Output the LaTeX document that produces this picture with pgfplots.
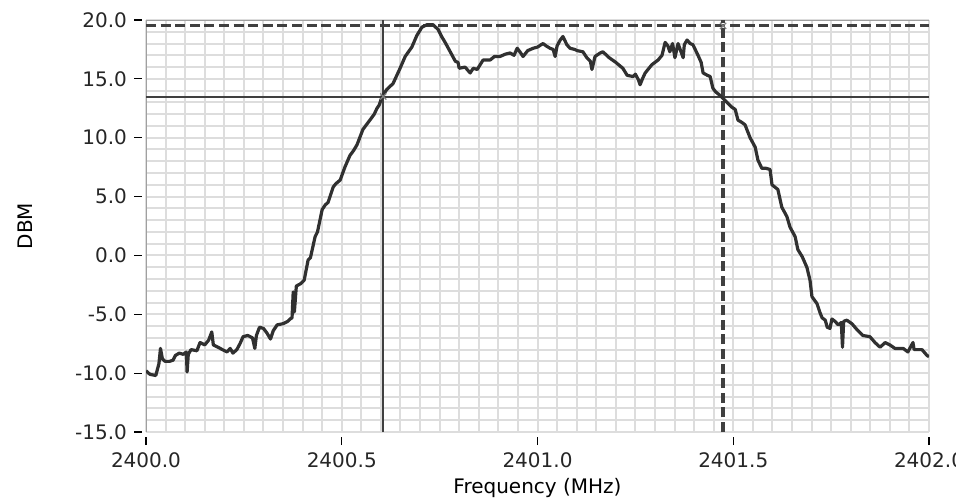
\documentclass[border=0pt]{standalone}
\usepackage{fontspec}
\setmainfont{DejaVu Sans}
\usepackage{pgfplots}
\pgfplotsset{compat=1.18}
\definecolor{trace}{HTML}{303030}
\definecolor{gridc}{HTML}{DDDDDD}
\definecolor{framec}{HTML}{A0A0A0}
\definecolor{mk}{HTML}{404040}

\pgfplotstableread{
x y
2400.000 -9.8
2400.010 -10.1
2400.025 -10.2
2400.033 -9.2
2400.037 -7.9
2400.042 -8.8
2400.049 -9.0
2400.060 -9.0
2400.069 -8.9
2400.075 -8.5
2400.085 -8.3
2400.095 -8.4
2400.103 -8.2
2400.105 -9.9
2400.108 -8.4
2400.115 -8.0
2400.130 -8.1
2400.138 -7.4
2400.150 -7.6
2400.160 -7.2
2400.168 -6.5
2400.172 -7.6
2400.184 -7.8
2400.195 -8.0
2400.207 -8.2
2400.215 -7.9
2400.222 -8.3
2400.232 -8.0
2400.240 -7.5
2400.248 -6.9
2400.260 -6.8
2400.272 -7.0
2400.278 -7.9
2400.282 -6.8
2400.290 -6.1
2400.300 -6.2
2400.309 -6.6
2400.318 -7.1
2400.325 -6.4
2400.335 -5.9
2400.350 -5.8
2400.362 -5.6
2400.368 -5.4
2400.373 -5.3
2400.376 -3.1
2400.379 -4.8
2400.384 -2.6
2400.395 -2.4
2400.404 -2.1
2400.414 -0.4
2400.420 -0.2
2400.432 1.6
2400.438 2.0
2400.450 3.9
2400.458 4.3
2400.465 4.5
2400.478 5.8
2400.485 6.1
2400.496 6.4
2400.508 7.5
2400.521 8.5
2400.530 8.9
2400.539 9.4
2400.554 10.7
2400.572 11.5
2400.583 12.0
2400.590 12.5
2400.596 12.8
2400.603 13.5
2400.615 14.1
2400.631 14.6
2400.649 15.9
2400.662 16.9
2400.679 17.7
2400.692 18.7
2400.705 19.4
2400.718 19.6
2400.733 19.6
2400.746 19.2
2400.755 18.6
2400.764 18.1
2400.782 17.0
2400.790 16.5
2400.797 16.4
2400.800 15.9
2400.815 16.0
2400.828 15.5
2400.836 15.9
2400.846 15.8
2400.861 16.6
2400.879 16.6
2400.890 16.9
2400.904 16.9
2400.918 17.1
2400.930 17.2
2400.940 17.0
2400.948 17.6
2400.955 17.3
2400.963 16.9
2400.975 17.4
2400.989 17.6
2401.000 17.7
2401.014 18.0
2401.022 17.8
2401.032 17.6
2401.040 17.5
2401.045 16.9
2401.050 17.8
2401.058 18.3
2401.065 18.6
2401.075 17.9
2401.083 17.6
2401.095 17.5
2401.101 17.4
2401.116 17.3
2401.126 16.8
2401.135 16.5
2401.139 15.8
2401.147 16.9
2401.160 17.2
2401.167 17.3
2401.183 16.8
2401.200 16.4
2401.218 15.9
2401.229 15.3
2401.244 15.2
2401.250 15.4
2401.258 14.9
2401.262 14.5
2401.268 15.0
2401.275 15.5
2401.292 16.2
2401.308 16.6
2401.318 17.0
2401.326 18.1
2401.333 17.8
2401.338 17.3
2401.345 18.0
2401.351 16.8
2401.359 18.0
2401.372 16.8
2401.375 17.9
2401.382 18.3
2401.390 18.0
2401.397 17.9
2401.410 17.0
2401.418 16.4
2401.423 15.5
2401.434 15.3
2401.441 15.2
2401.448 14.2
2401.455 13.9
2401.466 13.6
2401.478 13.2
2401.487 12.9
2401.496 12.6
2401.505 12.4
2401.512 11.5
2401.522 11.3
2401.530 11.1
2401.543 10.0
2401.556 9.2
2401.563 8.1
2401.573 7.4
2401.584 7.4
2401.594 7.3
2401.599 6.0
2401.614 5.6
2401.624 4.1
2401.637 3.3
2401.645 2.4
2401.658 1.6
2401.665 0.5
2401.676 -0.1
2401.688 -1.0
2401.696 -2.1
2401.701 -3.5
2401.714 -4.1
2401.722 -4.9
2401.727 -5.3
2401.735 -5.5
2401.740 -6.1
2401.747 -6.2
2401.752 -5.4
2401.760 -5.6
2401.768 -5.9
2401.776 -5.7
2401.779 -7.8
2401.782 -5.6
2401.790 -5.5
2401.803 -5.8
2401.816 -6.3
2401.831 -6.8
2401.849 -6.9
2401.862 -7.4
2401.875 -7.8
2401.888 -7.4
2401.900 -7.6
2401.913 -7.9
2401.934 -7.9
2401.946 -8.2
2401.959 -7.4
2401.962 -8.0
2401.982 -8.0
2401.995 -8.5
2402.000 -8.6
}\spectrum

\begin{document}
\begin{tikzpicture}
\begin{axis}[
    scale only axis,
    width=391.5pt, height=206pt,
    xmin=2400, xmax=2402,
    ymin=-15, ymax=20,
    xtick={2400,2400.5,2401,2401.5,2402},
    ytick={-15,-10,-5,0,5,10,15,20},
    minor x tick num=9,
    minor y tick num=4,
    grid=both,
    grid style={gridc, line width=1pt},
    major grid style={gridc, line width=1pt},
    minor tick length=0pt,
    major tick length=4pt,
    tick align=outside,
    tick pos=left,
    tick style={black, line width=0.6pt},
    xtick style={yshift=-2.5pt},
    ytick style={xshift=-2pt},
    axis line style={draw=none},
    scaled ticks=false,
    /pgf/number format/fixed,
    /pgf/number format/fixed zerofill,
    /pgf/number format/precision=1,
    /pgf/number format/1000 sep={},
    /pgf/number format/assume math mode=true,
    tick label style={font=\fontsize{10}{12}\selectfont, text=black!85},
    xticklabel style={yshift=-3pt},
    yticklabel style={xshift=-2pt},
    xlabel={Frequency (MHz)},
    ylabel={DBM},
    label style={font=\fontsize{10}{12}\selectfont, text=black!85},
    every axis x label/.style={at={(axis description cs:0.5,-0.136)}, anchor=center},
    every axis y label/.style={at={(axis description cs:-0.1545,0.5)}, rotate=90, anchor=center},
    clip=true,
]
\draw[framec, line width=0.8pt] (rel axis cs:0,0) -- (rel axis cs:0,1) -- (rel axis cs:1,1);

% marker lines
\addplot[mk, line width=1pt] coordinates {(2400,13.5) (2402,13.5)};
\addplot[mk, line width=1pt] coordinates {(2400.606,-15) (2400.606,20)};
\addplot[mk, line width=1.6pt, dash pattern=on 5pt off 2.3pt] coordinates {(2400,19.5) (2402,19.5)};
\addplot[mk, line width=1.6pt, dash pattern=on 5pt off 2.3pt] coordinates {(2401.474,-15) (2401.474,20)};

% trace
\addplot[trace, line width=1.6pt, line join=round] table[x=x,y=y] {\spectrum};

% marker crosses
\addplot[only marks, mark=x, mark size=2.2pt, mark options={gray, line width=0.6pt}] coordinates {(2400.606,13.5) (2401.474,19.5)};
\end{axis}
\pgfresetboundingbox
\path ([xshift=-73pt,yshift=-33pt]current axis.south west) rectangle ([xshift=13.5pt,yshift=10pt]current axis.north east);
\end{tikzpicture}
\end{document}
